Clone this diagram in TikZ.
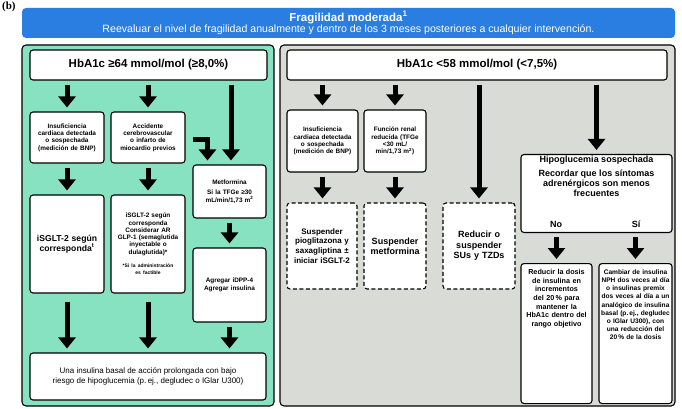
\documentclass[tikz,border=0pt]{standalone}
\usepackage{fontspec}
\setmainfont{Liberation Sans}
\usetikzlibrary{arrows.meta}
\definecolor{bblue}{HTML}{2A7DE1}
\definecolor{pgreen}{HTML}{86E2C1}
\definecolor{pgrey}{HTML}{D9DBD6}
\begin{document}
\hyphenpenalty=10000 \exhyphenpenalty=10000
\begin{tikzpicture}[x=1pt,y=-1pt,
 box/.style={draw=black,line width=1.1pt,rounded corners=3pt,fill=white,align=center,inner sep=1pt},
 dbox/.style={box,dashed,dash pattern=on 4pt off 2.5pt},
 panel/.style={draw=black,line width=1.1pt,rounded corners=4pt},
 barrow/.style={line width=5pt,-{Triangle[width=17pt,length=11pt]},shorten <=4pt,shorten >=4pt},
 tiny/.style={font=\fontsize{6.4}{7.3}\selectfont\bfseries},
 med/.style={font=\fontsize{9}{10.4}\selectfont\bfseries}]
\useasboundingbox (0,0) rectangle (682,409);
\fill[white] (0,0) rectangle (682,409);
\node[anchor=north west,inner sep=0] (lab) at (2,2) {\fontspec{Liberation Serif}\fontsize{11}{12}\selectfont\bfseries(b)};
\node[fill=bblue,rounded corners=4pt,minimum width=653pt,minimum height=30pt,text=white,align=center,inner sep=0] (ban) at (348.5,23)
 {{\fontsize{11.5}{12}\selectfont\bfseries Fragilidad moderada\textsuperscript{1}}\\[-1pt]{\fontsize{10.6}{11}\selectfont Reevaluar el nivel de fragilidad anualmente y dentro de los 3 meses posteriores a cualquier intervención.}};
\node[panel,fill=pgreen,minimum width=252pt,minimum height=361pt] (lp) at (148,225.5) {};
\node[panel,fill=pgrey,minimum width=395pt,minimum height=361pt] (rp) at (477.5,225.5) {};
% left
\node[box,minimum width=237pt,minimum height=30pt,font=\fontsize{11.5}{12}\selectfont\bfseries] (h1) at (148.5,65) {HbA1c ≥64 mmol/mol (≥8,0\%)};
\node[box,tiny,text width=70pt,minimum width=74pt,minimum height=51pt] (a1) at (67,137.5) {Insuficiencia cardiaca detectada o sospechada (medición de BNP)};
\node[box,tiny,text width=66pt,minimum width=74pt,minimum height=51pt] (a2) at (148,137.5) {Accidente cerebrovascular o infarto de miocardio previos};
\node[box,tiny,text width=66pt,minimum width=73pt,minimum height=53pt] (m) at (229.5,191.5) {Metformina\\[3pt]Si la TFGe ≥30 mL/min/1,73 m\textsuperscript{2}};
\node[box,font=\fontsize{8.6}{10.2}\selectfont\bfseries,text width=70pt,minimum width=74pt,minimum height=98pt] (s1) at (67,244) {iSGLT-2 según corresponda\textsuperscript{t}};
\node[box,text width=70pt,minimum width=74pt,minimum height=98pt,font=\fontsize{6.4}{7.3}\selectfont\bfseries] (s2) at (148,244) {iSGLT-2 según\\corresponda\\Considerar AR\\GLP-1 (semaglutida\\inyectable o\\dulaglutida)*\\[6pt]{\fontsize{5}{6}\selectfont *Si la administración es factible}\\[8pt]};
\node[box,tiny,text width=70pt,minimum width=73pt,minimum height=74pt] (ag) at (229.5,285) {Agregar iDPP-4\\Agregar insulina};
\node[box,font=\fontsize{8}{9.4}\selectfont,minimum width=236pt,minimum height=47pt] (bot) at (148,376.5) {Una insulina basal de acción prolongada con bajo\\riesgo de hipoglucemia (p.\,ej., degludec o IGlar U300)};
\draw[barrow] (h1.south -| a1.north) -- (a1.north);
\draw[barrow] (h1.south -| a2.north) -- (a2.north);
\draw[barrow] (h1.south -| 231,0) -- ([xshift=1.5pt]m.north);
\draw[line width=5pt,-{Triangle[width=17pt,length=11pt]},shorten >=4pt] ([xshift=7pt,yshift=-2pt]a2.east) -| ([xshift=-22pt]m.north);
\draw[barrow] (a1) -- (s1);
\draw[barrow] (a2) -- (s2);
\draw[barrow] (m) -- (ag);
\draw[barrow,shorten <=8pt] (s1.south) -- (bot.north -| s1.south);
\draw[barrow,shorten <=8pt] (s2.south) -- (bot.north -| s2.south);
\draw[barrow] (ag.south) -- (bot.north -| ag.south);
% right
\node[box,minimum width=380pt,minimum height=30pt,font=\fontsize{11.5}{12}\selectfont\bfseries] (h2) at (477,65) {HbA1c <58 mmol/mol (<7,5\%)};
\node[box,tiny,text width=69pt,minimum width=71pt,minimum height=62pt] (r1) at (322.5,141) {Insuficiencia\\cardiaca detectada\\o sospechada\\(medición de BNP)};
\node[box,tiny,text width=58pt,minimum width=62pt,minimum height=62pt] (r2) at (395,141) {Función renal\\reducida (TFGe\\<30 mL/\\min/1,73 m\textsuperscript{2})\\[8pt]};
\node[dbox,font=\fontsize{8}{9.8}\selectfont\bfseries,text width=68pt,minimum width=70pt,minimum height=86pt] (d1) at (322,246) {Suspender pioglitazona y saxagliptina ± iniciar iSGLT-2};
\node[dbox,med,text width=60pt,minimum width=62pt,minimum height=86pt] (d2) at (395,246) {Suspender metformina};
\node[dbox,med,text width=68pt,minimum width=72pt,minimum height=86pt] (d3) at (479,246) {Reducir o\\suspender\\SUs y TZDs};
\node[box,minimum width=151pt,minimum height=78pt] (hy) at (596.5,193.5) {};
\node[font=\fontsize{9}{10.4}\selectfont\bfseries,align=center,anchor=north,inner sep=2pt] (hyt) at (hy.north) {Hipoglucemia sospechada\\[3pt]Recordar que los síntomas\\adrenérgicos son menos\\frecuentes};
\node[font=\fontsize{9}{10}\selectfont\bfseries] (no) at (556,224) {No};
\node[font=\fontsize{9}{10}\selectfont\bfseries] (si) at (636,224) {Sí};
\node[box,anchor=north,minimum width=71pt,minimum height=140pt] (n1) at (556.5,263) {};
\node[font=\fontsize{7.2}{8.6}\selectfont\bfseries,text width=68pt,align=center,anchor=north] (n1t) at ([yshift=-3pt]n1.north) {Reducir la dosis de insulina en incrementos del 20\,\% para mantener la HbA1c dentro del rango objetivo};
\node[box,anchor=north,minimum width=73pt,minimum height=140pt] (n2) at (635.5,263) {};
\node[font=\fontsize{6.6}{8.2}\selectfont\bfseries,text width=70pt,align=center,anchor=north] (n2t) at ([yshift=-3pt]n2.north) {Cambiar de insulina NPH dos veces al día o insulinas premix dos veces al día a un analógico de insulina basal (p.\,ej., degludec o IGlar U300), con una reducción del 20\,\% de la dosis};
\draw[barrow] (h2.south -| r1.north) -- (r1.north);
\draw[barrow] (h2.south -| r2.north) -- (r2.north);
\draw[barrow] (h2.south -| d3.north) -- (d3.north);
\draw[barrow] (h2.south -| hy.north) -- (hy.north);
\draw[barrow] (r1) -- (r1.south |- d1.north);
\draw[barrow] (r2) -- (r2.south |- d2.north);
\draw[barrow] (hy.south -| n1.north) -- (n1.north);
\draw[barrow] (hy.south -| n2.north) -- (n2.north);
\end{tikzpicture}
\end{document}
